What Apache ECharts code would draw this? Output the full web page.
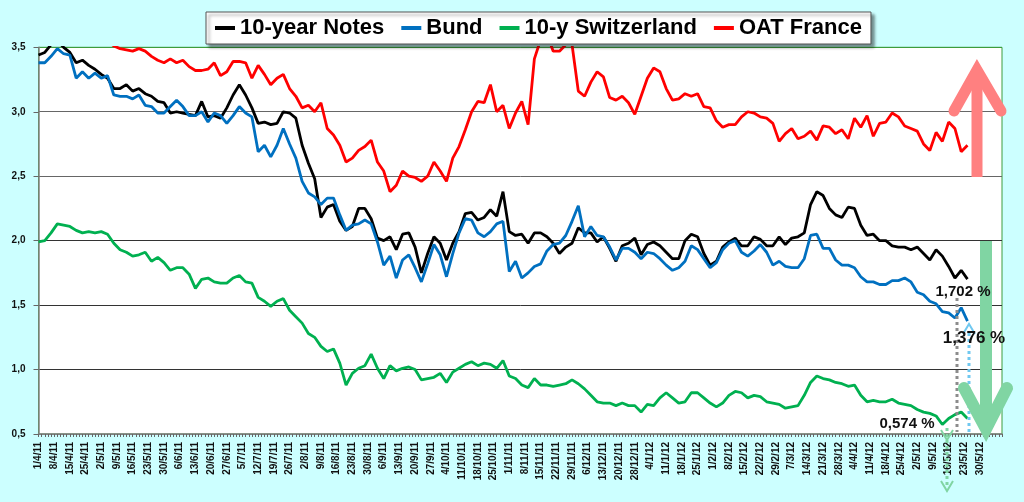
<!DOCTYPE html>
<html lang="en">
<head>
  <meta charset="UTF-8">
  <title>10-year yields</title>
  <script src="https://cdn.jsdelivr.net/npm/echarts/dist/echarts.min.js"></script>
  <style>
    html, body { margin: 0; padding: 0; background: #ccffff; }
    #main { width: 1024px; height: 502px; }
  </style>
</head>
<body>
  <div id="main"></div>
  <script type="text/javascript">
    // weekly tick labels, one every 5 business days
    var weekLabels = ['1/4/11','8/4/11','15/4/11','25/4/11','2/5/11','9/5/11','16/5/11','23/5/11','30/5/11',
      '6/6/11','13/6/11','20/6/11','27/6/11','5/7/11','12/7/11','19/7/11','26/7/11','2/8/11','9/8/11',
      '16/8/11','23/8/11','30/8/11','6/9/11','13/9/11','20/9/11','27/9/11','4/10/11','11/10/11','18/10/11',
      '25/10/11','1/11/11','8/11/11','15/11/11','22/11/11','29/11/11','6/12/11','13/12/11','20/12/11',
      '28/12/11','4/1/12','11/1/12','18/1/12','25/1/12','1/2/12','8/2/12','15/2/12','22/2/12','29/2/12',
      '7/3/12','14/3/12','21/3/12','28/3/12','4/4/12','11/4/12','18/4/12','25/4/12','2/5/12','9/5/12',
      '16/5/12','23/5/12','30/5/12'];
    var slotCount = 308;   // business days on the axis
    var step = 2;          // one reading every second business day

    var notes10y = [
      3.44, 3.46, 3.52, 3.55, 3.50, 3.46, 3.38, 3.40, 3.36, 3.33,
      3.29, 3.26, 3.18, 3.18, 3.21, 3.16, 3.18, 3.14, 3.12, 3.08,
      3.07, 2.99, 3.00, 2.99, 2.98, 2.97, 3.08, 2.96, 2.97, 2.95,
      3.03, 3.13, 3.21, 3.13, 3.03, 2.91, 2.92, 2.90, 2.91, 3.00,
      2.99, 2.95, 2.74, 2.60, 2.48, 2.18, 2.26, 2.28, 2.15, 2.08,
      2.11, 2.25, 2.25, 2.17, 2.02, 2.00, 2.03, 1.93, 2.05, 2.06,
      1.95, 1.75, 1.90, 2.03, 1.98, 1.85, 1.98, 2.07, 2.21, 2.22,
      2.16, 2.18, 2.24, 2.19, 2.38, 2.07, 2.04, 2.05, 1.98, 2.06,
      2.06, 2.03, 1.98, 1.90, 1.95, 1.98, 2.10, 2.06, 2.06, 1.99,
      2.03, 1.94, 1.84, 1.96, 1.98, 2.02, 1.89, 1.97, 1.99, 1.96,
      1.91, 1.86, 1.86, 2.00, 2.05, 2.03, 1.90, 1.81, 1.84, 1.95,
      1.99, 2.02, 1.96, 1.96, 2.03, 2.01, 1.96, 1.96, 2.03, 1.97,
      2.02, 2.03, 2.06, 2.28, 2.38, 2.35, 2.25, 2.20, 2.18, 2.26,
      2.25, 2.12, 2.04, 2.05, 2.00, 2.00, 1.96, 1.95, 1.95, 1.93,
      1.95, 1.90, 1.85, 1.93, 1.88, 1.80, 1.71, 1.77, 1.702
    ];
    var bund = [
      3.38, 3.38, 3.43, 3.49, 3.45, 3.44, 3.26, 3.31, 3.26, 3.30,
      3.26, 3.28, 3.13, 3.12, 3.12, 3.10, 3.13, 3.05, 3.04, 2.99,
      2.99, 3.04, 3.09, 3.04, 2.97, 2.97, 3.00, 2.92, 2.99, 2.97,
      2.91, 2.97, 3.04, 2.99, 2.96, 2.69, 2.74, 2.65, 2.74, 2.87,
      2.75, 2.64, 2.46, 2.37, 2.34, 2.28, 2.33, 2.33, 2.20, 2.08,
      2.12, 2.13, 2.16, 2.13, 1.99, 1.81, 1.88, 1.71, 1.85, 1.89,
      1.79, 1.68, 1.82, 1.97, 1.89, 1.72, 1.90, 2.06, 2.17, 2.16,
      2.06, 2.03, 2.07, 2.13, 2.15, 1.76, 1.84, 1.71, 1.75, 1.80,
      1.82, 1.92, 1.97, 1.98, 2.04, 2.15, 2.27, 2.03, 2.11, 2.04,
      2.03, 1.95, 1.85, 1.94, 1.94, 1.91, 1.86, 1.91, 1.90, 1.86,
      1.81, 1.77, 1.79, 1.84, 1.96, 1.93, 1.86, 1.79, 1.83, 1.93,
      1.98, 2.00, 1.91, 1.88, 1.92, 1.97, 1.91, 1.81, 1.84, 1.80,
      1.79, 1.79, 1.86, 2.04, 2.05, 1.94, 1.94, 1.85, 1.81, 1.81,
      1.79, 1.72, 1.68, 1.68, 1.66, 1.66, 1.69, 1.69, 1.71, 1.68,
      1.60, 1.58, 1.53, 1.51, 1.45, 1.44, 1.40, 1.48, 1.376
    ];
    var swiss10y = [
      1.99, 2.00, 2.06, 2.13, 2.12, 2.11, 2.08, 2.06, 2.07, 2.06,
      2.07, 2.05, 1.98, 1.93, 1.91, 1.88, 1.89, 1.91, 1.84, 1.87,
      1.83, 1.77, 1.79, 1.79, 1.74, 1.63, 1.70, 1.71, 1.68, 1.67,
      1.67, 1.71, 1.73, 1.68, 1.67, 1.56, 1.53, 1.49, 1.53, 1.55,
      1.46, 1.41, 1.36, 1.28, 1.25, 1.18, 1.14, 1.16, 1.05, 0.88,
      0.97, 1.01, 1.03, 1.12, 1.01, 0.93, 1.03, 0.99, 1.01, 1.02,
      1.00, 0.92, 0.93, 0.94, 0.97, 0.90, 0.98, 1.01, 1.04, 1.06,
      1.03, 1.05, 1.04, 1.01, 1.07, 0.95, 0.93, 0.88, 0.86, 0.93,
      0.88, 0.88, 0.87, 0.88, 0.89, 0.92, 0.89, 0.85, 0.80, 0.75,
      0.74, 0.74, 0.72, 0.74, 0.72, 0.72, 0.67, 0.73, 0.72, 0.78,
      0.82, 0.78, 0.74, 0.75, 0.82, 0.82, 0.78, 0.74, 0.71, 0.74,
      0.80, 0.83, 0.82, 0.78, 0.80, 0.79, 0.75, 0.74, 0.73, 0.70,
      0.71, 0.72, 0.80, 0.90, 0.95, 0.93, 0.92, 0.90, 0.89, 0.87,
      0.88, 0.80, 0.75, 0.76, 0.75, 0.75, 0.77, 0.74, 0.73, 0.72,
      0.69, 0.67, 0.66, 0.64, 0.574, 0.62, 0.65, 0.67, 0.62
    ];
    var oatFrance = [
      3.62, 3.63, 3.64, 3.62, 3.63, 3.61, 3.60, 3.61, 3.59, 3.58,
      3.57, 3.55, 3.51, 3.49, 3.48, 3.47, 3.49, 3.47, 3.43, 3.40,
      3.38, 3.41, 3.38, 3.40, 3.35, 3.32, 3.32, 3.33, 3.38, 3.28,
      3.31, 3.39, 3.39, 3.38, 3.26, 3.36, 3.29, 3.21, 3.26, 3.29,
      3.18, 3.12, 3.03, 3.05, 3.00, 3.07, 2.87, 2.82, 2.74, 2.61,
      2.64, 2.70, 2.73, 2.78, 2.61, 2.54, 2.38, 2.43, 2.54, 2.50,
      2.49, 2.46, 2.50, 2.61, 2.54, 2.46, 2.64, 2.73, 2.86, 3.00,
      3.08, 3.07, 3.21, 3.00, 3.05, 2.87, 2.99, 3.08, 2.90, 3.41,
      3.56, 3.60, 3.47, 3.47, 3.52, 3.52, 3.16, 3.12, 3.23, 3.31,
      3.27, 3.11, 3.09, 3.12, 3.07, 2.98, 3.12, 3.26, 3.34, 3.31,
      3.18, 3.09, 3.10, 3.14, 3.12, 3.14, 3.04, 3.03, 2.93, 2.88,
      2.90, 2.90, 2.96, 3.00, 2.99, 2.96, 2.95, 2.91, 2.77, 2.83,
      2.87, 2.79, 2.81, 2.85, 2.78, 2.89, 2.88, 2.83, 2.86, 2.79,
      2.95, 2.88, 2.97, 2.81, 2.91, 2.92, 2.99, 2.96, 2.89, 2.87,
      2.85, 2.75, 2.70, 2.84, 2.77, 2.92, 2.87, 2.69, 2.74
    ];

    var slots = [];
    for (var i = 0; i < slotCount; i++) slots.push(String(i));

    function lineSeries(name, values, color) {
      return {
        name: name,
        type: 'line',
        data: values.map(function (v, k) { return [k * step, v]; }),
        symbol: 'none',
        showSymbol: false,
        clip: true,
        lineStyle: { color: color, width: 2.8 },
        itemStyle: { color: color }
      };
    }

    var green = '#80d5a3';
    var labelFont = 'Liberation Sans, Arial, sans-serif';
    var option = {
      backgroundColor: '#ccffff',
      animation: false,
      textStyle: { fontFamily: labelFont },
      grid: {
        left: 38.5, right: 22, top: 47.3, bottom: 68,
        show: true, backgroundColor: '#ffffff', borderColor: '#3c9c3c', borderWidth: 1
      },
      legend: {
        left: 206, top: 12,
        padding: [4, 9],
        itemGap: 17, itemWidth: 20, itemHeight: 4, icon: 'rect',
        backgroundColor: '#ffffff', borderColor: '#555', borderWidth: 1,
        shadowColor: 'rgba(0,0,0,0.45)', shadowBlur: 3, shadowOffsetX: 3, shadowOffsetY: 3,
        textStyle: { fontSize: 22, fontWeight: 'bold', color: '#000', lineHeight: 24 },
        data: ['10-year Notes', 'Bund', '10-y Switzerland', 'OAT France']
      },
      xAxis: {
        type: 'category',
        data: slots,
        boundaryGap: false,
        axisLine: { lineStyle: { color: '#808080', width: 1.5 } },
        axisTick: { interval: 0, length: 3, lineStyle: { color: '#666' } },
        axisLabel: {
          interval: 4, rotate: 90, margin: 8,
          fontSize: 10, fontWeight: 'bold', color: '#111',
          formatter: function (v, idx) { return weekLabels[idx / 5] || ''; }
        },
        splitLine: { show: false }
      },
      yAxis: {
        type: 'value', min: 0.5, max: 3.5, interval: 0.5,
        axisLine: { show: true, lineStyle: { color: '#808080', width: 1.5 } },
        axisTick: { show: true, length: 5, lineStyle: { color: '#666' } },
        axisLabel: {
          margin: 13, fontSize: 10, fontWeight: 'bold', color: '#111',
          formatter: function (v) { return v.toFixed(1).replace('.', ','); }
        },
        splitLine: {
          lineStyle: { color: ['#808080', '#333', '#333', '#333', '#666', '#666', '#3c9c3c'], width: 1 }
        }
      },
      series: [
        lineSeries('10-year Notes', notes10y, '#000000'),
        lineSeries('Bund', bund, '#0070c0'),
        lineSeries('10-y Switzerland', swiss10y, '#00b050'),
        lineSeries('OAT France', oatFrance, '#ff0000')
      ],
      graphic: [
        // dotted drop lines from the last values
        { type: 'line', z: 100, shape: { x1: 957, y1: 298, x2: 957, y2: 432 },
          style: { stroke: '#8c8c8c', lineWidth: 3, lineDash: [3, 3] } },
        { type: 'line', z: 100, shape: { x1: 969, y1: 333, x2: 969, y2: 432 },
          style: { stroke: '#70c8f0', lineWidth: 3, lineDash: [3, 3] } },
        { type: 'polyline', z: 100, shape: { points: [[963, 334], [969, 324], [975, 334]] },
          style: { stroke: '#70c8f0', lineWidth: 2, fill: null } },
        { type: 'line', z: 100, shape: { x1: 947, y1: 428, x2: 947, y2: 488 },
          style: { stroke: green, lineWidth: 3, lineDash: [3, 3] } },
        { type: 'polyline', z: 100, shape: { points: [[941, 430], [947, 440], [953, 430]] },
          style: { stroke: green, lineWidth: 2, fill: null } },
        { type: 'polyline', z: 100, shape: { points: [[941, 481], [947, 491], [953, 481]] },
          style: { stroke: green, lineWidth: 2, fill: null } },
        // red arrow up
        { type: 'line', z: 101, shape: { x1: 977, y1: 177, x2: 977, y2: 74 },
          style: { stroke: '#ff8080', lineWidth: 11 } },
        { type: 'polyline', z: 101, shape: { points: [[954, 111], [977, 70], [1001, 111]] },
          style: { stroke: '#ff8080', lineWidth: 11, lineCap: 'round', lineJoin: 'miter', fill: null } },
        // green arrow down
        { type: 'line', z: 101, shape: { x1: 986, y1: 241, x2: 986, y2: 425 },
          style: { stroke: green, lineWidth: 12 } },
        { type: 'polyline', z: 101, shape: { points: [[964, 388], [986, 429], [1007, 388]] },
          style: { stroke: green, lineWidth: 12, lineCap: 'round', lineJoin: 'miter', fill: null } },
        // last values
        { type: 'text', z: 102, x: 963, y: 292,
          style: { text: '1,702 %', fontSize: 15, fontWeight: 'bold', fontFamily: labelFont, fill: '#111', align: 'center', verticalAlign: 'middle' } },
        { type: 'text', z: 102, x: 974, y: 338,
          style: { text: '1,376 %', fontSize: 17, fontWeight: 'bold', fontFamily: labelFont, fill: '#111', align: 'center', verticalAlign: 'middle' } },
        { type: 'text', z: 102, x: 907, y: 424,
          style: { text: '0,574 %', fontSize: 15, fontWeight: 'bold', fontFamily: labelFont, fill: '#111', align: 'center', verticalAlign: 'middle' } }
      ]
    };

    var myChart = echarts.init(document.getElementById('main'));
    myChart.setOption(option, true);
  </script>
</body>
</html>
